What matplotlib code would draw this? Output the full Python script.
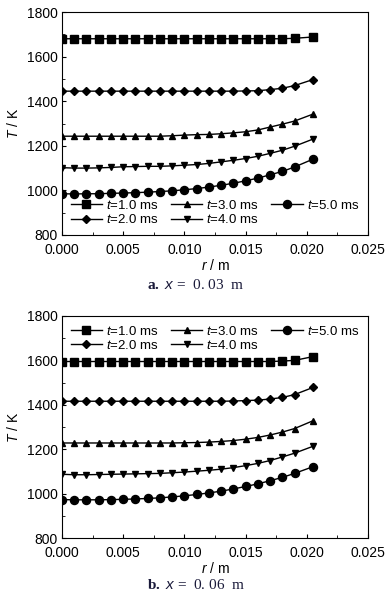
import matplotlib
matplotlib.use("Agg")
import matplotlib.pyplot as plt
from matplotlib.ticker import MultipleLocator

plt.rcParams['font.family'] = ['Liberation Sans', 'DejaVu Sans']
plt.rcParams['mathtext.fontset'] = 'custom'
plt.rcParams['mathtext.it'] = 'Liberation Sans:italic'
plt.rcParams['mathtext.rm'] = 'Liberation Sans'
plt.rcParams['mathtext.bf'] = 'Liberation Serif:bold'

r = [0.000, 0.001, 0.002, 0.003, 0.004, 0.005, 0.006, 0.007, 0.008, 0.009, 0.010,
     0.011, 0.012, 0.013, 0.014, 0.015, 0.016, 0.017, 0.018, 0.019, 0.0205]

labels = ["$t$=1.0 ms", "$t$=2.0 ms", "$t$=3.0 ms", "$t$=4.0 ms", "$t$=5.0 ms"]
markers = ["s", "D", "^", "v", "o"]
msizes = [5.5, 4, 5, 5, 5.8]

# x = 0.03 m
Ta_1 = [1680, 1680, 1680, 1680, 1680, 1680, 1680, 1680, 1680, 1680, 1680,
        1680, 1680, 1680, 1680, 1680, 1680, 1680, 1680, 1682, 1688]
Ta_2 = [1445, 1445, 1445, 1445, 1445, 1445, 1445, 1445, 1445, 1445, 1445,
        1445, 1445, 1445, 1445, 1446, 1447, 1452, 1458, 1470, 1497]
Ta_3 = [1243, 1243, 1243, 1243, 1243, 1243, 1243, 1243, 1243, 1245, 1248,
        1250, 1251, 1254, 1258, 1263, 1271, 1284, 1297, 1311, 1342]
Ta_4 = [1102, 1100, 1100, 1101, 1103, 1106, 1107, 1108, 1108, 1110, 1113,
        1116, 1121, 1128, 1135, 1143, 1153, 1166, 1180, 1198, 1230]
Ta_5 = [985, 984, 985, 985, 987, 988, 990, 992, 995, 998, 1003,
        1008, 1015, 1023, 1032, 1043, 1055, 1070, 1085, 1105, 1140]

# x = 0.06 m
Tb_1 = [1595, 1595, 1595, 1595, 1595, 1595, 1595, 1595, 1595, 1595, 1595,
        1595, 1595, 1595, 1595, 1595, 1595, 1595, 1597, 1600, 1617]
Tb_2 = [1416, 1416, 1416, 1416, 1416, 1416, 1416, 1416, 1416, 1416, 1416,
        1416, 1416, 1416, 1417, 1419, 1421, 1426, 1433, 1446, 1478]
Tb_3 = [1228, 1228, 1228, 1228, 1228, 1228, 1228, 1228, 1228, 1228, 1229,
        1230, 1232, 1235, 1239, 1245, 1253, 1264, 1277, 1293, 1328]
Tb_4 = [1087, 1085, 1085, 1086, 1087, 1088, 1089, 1090, 1091, 1094, 1097,
        1101, 1105, 1110, 1117, 1126, 1136, 1149, 1165, 1182, 1213]
Tb_5 = [973, 972, 972, 972, 973, 974, 976, 978, 981, 985, 990,
        996, 1003, 1011, 1021, 1032, 1044, 1058, 1073, 1091, 1121]

panels = [
    ([Ta_1, Ta_2, Ta_3, Ta_4, Ta_5], "lower left", r"$\mathbf{a.}$ ", "0. 03"),
    ([Tb_1, Tb_2, Tb_3, Tb_4, Tb_5], "upper left", r"$\mathbf{b.}$ ", "0. 06"),
]

fig = plt.figure(figsize=(3.91, 5.99), dpi=100)
W, H = 391, 599
boxes = [(62, 12, 368, 235), (62, 316, 368, 538)]
cap_y = [285, 585]

for i, (series, loc, tag, xval) in enumerate(panels):
    x0, y0, x1, y1 = boxes[i]
    ax = fig.add_axes([x0 / W, 1 - y1 / H, (x1 - x0) / W, (y1 - y0) / H])
    for T, lab, m, ms in zip(series, labels, markers, msizes):
        ax.plot(r, T, color="black", lw=1.0, marker=m, ms=ms, label=lab)
    ax.set_xlim(0, 0.025)
    ax.set_ylim(800, 1800)
    ax.xaxis.set_major_locator(MultipleLocator(0.005))
    ax.xaxis.set_minor_locator(MultipleLocator(0.0025))
    ax.yaxis.set_major_locator(MultipleLocator(200))
    ax.yaxis.set_minor_locator(MultipleLocator(100))
    ax.set_xticklabels([f"{v:.3f}" for v in ax.get_xticks()])
    ax.tick_params(which="both", direction="in", top=False, right=False,
                   labelsize=10)
    ax.tick_params(axis="x", pad=5.5)
    ax.tick_params(axis="y", pad=3)
    ax.tick_params(which="major", length=3)
    ax.tick_params(which="minor", length=2)
    ax.set_xlabel("$r$ / m", fontsize=10, labelpad=1)
    ax.set_ylabel("$T$ / K", fontsize=10, labelpad=4)
    ax.legend(loc=loc, ncol=3, frameon=False, fontsize=9.5,
              handlelength=2.4, handletextpad=0.3, columnspacing=0.9,
              labelspacing=0.1, borderaxespad=0.25)
    fig.text(196 / W, 1 - cap_y[i] / H,
             tag + "$\\it{x}$ =  " + xval + "  m",
             fontsize=11, family=['Liberation Serif'], color="#1a1a3a",
             ha="center", va="center")

fig.savefig("out.png", dpi=100)
